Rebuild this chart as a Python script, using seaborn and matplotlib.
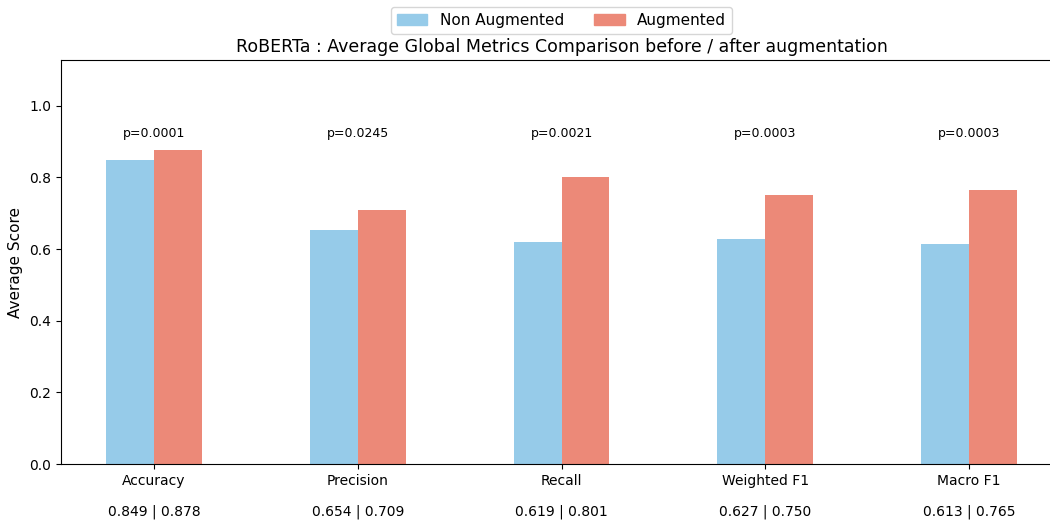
import matplotlib
matplotlib.use("Agg")
import matplotlib.pyplot as plt
import matplotlib.patches as mpatches
import pandas as pd
import seaborn as sns

metrics = ["Accuracy", "Precision", "Recall", "Weighted F1", "Macro F1"]
non_augmented = [0.849, 0.654, 0.619, 0.627, 0.613]
augmented = [0.878, 0.709, 0.801, 0.750, 0.765]
p_values = ["p=0.0001", "p=0.0245", "p=0.0021", "p=0.0003", "p=0.0003"]
conditions = ["Non Augmented", "Augmented"]
colors = ["#96CBE9", "#EC8978"]

df = pd.DataFrame({
    "Metric": metrics * 2,
    "Score": non_augmented + augmented,
    "Condition": [conditions[0]] * len(metrics) + [conditions[1]] * len(metrics),
})

fig = plt.figure(figsize=(10.5, 5.21), dpi=100)
ax = fig.add_axes([0.0578, 0.1094, 0.954, 0.7754])

sns.barplot(data=df, x="Metric", y="Score", hue="Condition",
            palette=colors, width=0.47, saturation=1, ax=ax, errorbar=None)

ax.set_xlim(-0.4585, 4.4585)
ax.set_ylim(0, 1.128)
ax.set_yticks([0.0, 0.2, 0.4, 0.6, 0.8, 1.0])
ax.set_xlabel("")
ax.set_ylabel("Average Score", fontsize=11)
ax.set_title("RoBERTa : Average Global Metrics Comparison before / after augmentation",
             fontsize=12.5)

for i, (p, a, b) in enumerate(zip(p_values, non_augmented, augmented)):
    ax.text(i, 0.906, p, ha="center", va="bottom", fontsize=9)
    ax.text(i, -0.117, f"{a:.3f} | {b:.3f}", ha="center", va="center",
            fontsize=10, transform=ax.get_xaxis_transform())

handles = [mpatches.Patch(color=c, label=l) for c, l in zip(colors, conditions)]
ax.legend(handles=handles, loc="lower center", bbox_to_anchor=(0.5, 1.045),
          ncol=2, fontsize=11, frameon=True)

fig.savefig("out.png", dpi=100)
